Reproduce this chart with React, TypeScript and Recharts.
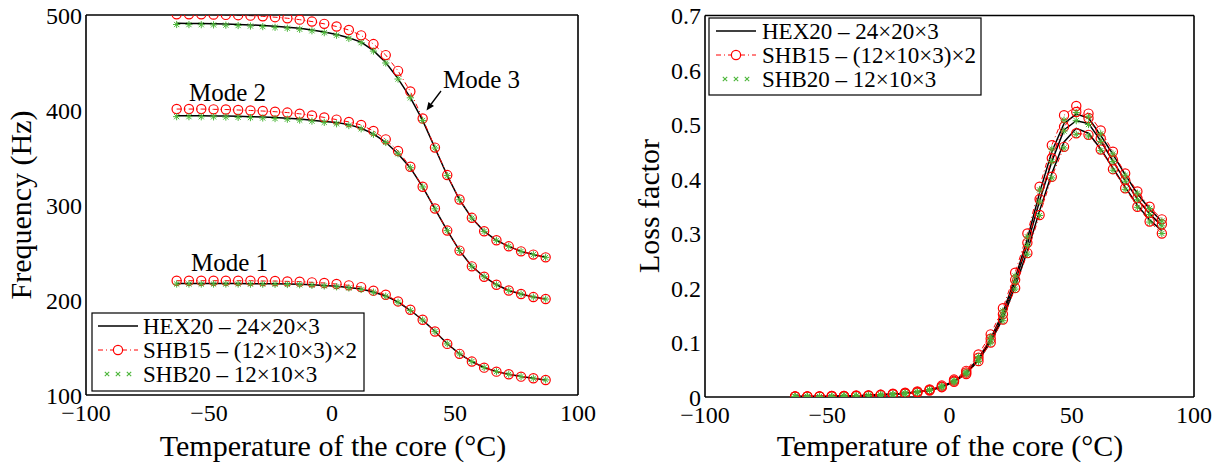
import React from 'react';
import { LineChart, Line, XAxis, YAxis } from 'recharts';

// core temperatures (210 K .. 360 K, step 5 K) in degC
const temps = [
  -63.15, -58.15, -53.15, -48.15, -43.15, -38.15, -33.15, -28.15, -23.15, -18.15, -13.15,
  -8.15, -3.15, 1.85, 6.85, 11.85, 16.85, 21.85, 26.85, 31.85, 36.85, 41.85, 46.85, 51.85,
  56.85, 61.85, 66.85, 71.85, 76.85, 81.85, 86.85,
];

// frequencies (Hz)
const freqHexM1 = [217.3, 217.3, 217.3, 217.3, 217.3, 217.3, 217.2, 217.1, 217.0, 216.8, 216.5, 216.0, 215.3, 214.4, 213.2, 211.6, 208.5, 204.3, 197.8, 189.2, 179.0, 166.8, 153.9, 143.4, 135.2, 128.9, 124.6, 121.8, 119.4, 117.6, 115.9];
const freqS15M1 = [220.3, 220.3, 220.3, 220.3, 220.3, 220.3, 220.3, 220.0, 220.0, 219.6, 219.3, 218.6, 217.9, 216.8, 215.4, 213.6, 209.8, 205.5, 198.5, 189.7, 179.2, 166.8, 153.8, 143.3, 135.2, 128.8, 124.6, 121.8, 119.3, 117.6, 115.8];
const freqS20M1 = [216.8, 216.8, 216.8, 216.8, 216.8, 216.8, 216.7, 216.6, 216.5, 216.3, 216.0, 215.5, 214.8, 213.9, 212.7, 211.1, 208.2, 204.0, 197.6, 189.0, 178.9, 166.7, 153.8, 143.3, 135.2, 128.9, 124.6, 121.8, 119.4, 117.6, 115.9];

const freqHexM2 = [394.0, 394.0, 393.9, 393.8, 393.6, 393.3, 393.0, 392.6, 392.0, 391.3, 390.4, 389.3, 388.0, 386.8, 384.6, 380.8, 374.8, 366.0, 354.0, 339.0, 319.0, 296.0, 273.0, 252.0, 235.4, 224.5, 216.0, 210.0, 206.3, 203.1, 201.0];
const freqS15M2 = [401.0, 401.0, 401.0, 400.7, 400.5, 400.0, 399.5, 398.9, 398.2, 397.3, 396.0, 394.3, 392.2, 389.9, 387.5, 384.3, 378.0, 369.1, 356.8, 340.3, 319.2, 296.3, 273.1, 252.0, 235.4, 224.5, 216.0, 210.0, 206.3, 203.1, 201.0];
const freqS20M2 = [393.0, 393.0, 392.9, 392.8, 392.6, 392.3, 392.0, 391.6, 391.0, 390.3, 389.4, 388.3, 387.0, 385.5, 383.6, 380.2, 374.4, 365.8, 354.0, 339.2, 319.0, 296.0, 273.0, 252.0, 235.4, 224.5, 216.0, 210.0, 206.3, 203.1, 201.0];

const freqHexM3 = [491.2, 491.1, 491.0, 490.8, 490.5, 490.1, 489.6, 489.0, 488.2, 487.2, 486.0, 484.3, 482.2, 479.4, 476.0, 471.5, 462.5, 450.0, 433.0, 413.0, 389.0, 360.0, 331.0, 305.5, 286.2, 272.2, 262.8, 256.4, 251.2, 247.8, 244.9];
const freqS15M3 = [500.8, 500.8, 500.7, 500.4, 500.1, 499.8, 499.3, 498.6, 497.7, 496.6, 495.1, 493.1, 490.7, 487.9, 484.2, 478.6, 469.4, 457.8, 441.2, 419.5, 391.0, 360.4, 331.5, 305.8, 286.5, 272.4, 262.9, 256.5, 251.2, 247.8, 244.9];
const freqS20M3 = [490.0, 489.9, 489.8, 489.6, 489.3, 488.9, 488.4, 487.8, 487.0, 486.1, 485.0, 483.4, 481.4, 478.7, 475.3, 470.9, 462.0, 449.5, 432.6, 412.8, 389.0, 360.0, 331.0, 305.5, 286.2, 272.2, 262.8, 256.4, 251.2, 247.8, 244.9];

// loss factors
const lossHexA = [0.001, 0.001, 0.001, 0.001, 0.002, 0.002, 0.003, 0.004, 0.005, 0.007, 0.009, 0.013, 0.019, 0.029, 0.045, 0.071, 0.107, 0.155, 0.218, 0.29, 0.375, 0.45, 0.502, 0.519, 0.512, 0.48, 0.445, 0.408, 0.373, 0.345, 0.322];
const lossHexB = [0.001, 0.001, 0.001, 0.001, 0.002, 0.002, 0.003, 0.004, 0.005, 0.007, 0.009, 0.013, 0.019, 0.029, 0.044, 0.069, 0.104, 0.15, 0.212, 0.28, 0.36, 0.432, 0.49, 0.507, 0.502, 0.47, 0.433, 0.397, 0.363, 0.336, 0.314];
const lossHexC = [0.001, 0.001, 0.001, 0.001, 0.002, 0.002, 0.003, 0.004, 0.005, 0.007, 0.009, 0.012, 0.018, 0.028, 0.043, 0.067, 0.101, 0.144, 0.203, 0.268, 0.342, 0.41, 0.468, 0.493, 0.484, 0.455, 0.42, 0.385, 0.352, 0.325, 0.305];

const lossS15A = [0.001, 0.001, 0.001, 0.002, 0.002, 0.003, 0.003, 0.004, 0.006, 0.008, 0.01, 0.014, 0.021, 0.032, 0.048, 0.078, 0.115, 0.163, 0.228, 0.3, 0.386, 0.462, 0.517, 0.534, 0.52, 0.489, 0.45, 0.41, 0.377, 0.349, 0.326];
const lossS15B = [0.001, 0.001, 0.001, 0.002, 0.002, 0.002, 0.003, 0.004, 0.005, 0.007, 0.009, 0.013, 0.019, 0.03, 0.045, 0.072, 0.107, 0.152, 0.215, 0.283, 0.363, 0.438, 0.496, 0.523, 0.512, 0.475, 0.435, 0.398, 0.365, 0.338, 0.317];
const lossS15C = [0.001, 0.001, 0.001, 0.001, 0.001, 0.002, 0.002, 0.003, 0.005, 0.006, 0.008, 0.012, 0.018, 0.028, 0.042, 0.066, 0.1, 0.142, 0.2, 0.264, 0.334, 0.404, 0.459, 0.484, 0.481, 0.454, 0.418, 0.383, 0.349, 0.322, 0.3];

const lossS20A = [0.001, 0.001, 0.001, 0.001, 0.002, 0.002, 0.003, 0.004, 0.005, 0.007, 0.009, 0.013, 0.02, 0.03, 0.046, 0.074, 0.11, 0.158, 0.222, 0.294, 0.38, 0.455, 0.508, 0.522, 0.514, 0.483, 0.446, 0.407, 0.374, 0.346, 0.323];
const lossS20B = [0.001, 0.001, 0.001, 0.001, 0.002, 0.002, 0.003, 0.004, 0.005, 0.007, 0.009, 0.013, 0.019, 0.029, 0.044, 0.07, 0.105, 0.15, 0.211, 0.278, 0.358, 0.432, 0.488, 0.507, 0.5, 0.469, 0.432, 0.396, 0.362, 0.335, 0.314];
const lossS20C = [0.001, 0.001, 0.001, 0.001, 0.001, 0.002, 0.002, 0.003, 0.004, 0.006, 0.008, 0.012, 0.018, 0.027, 0.042, 0.065, 0.099, 0.14, 0.198, 0.262, 0.333, 0.402, 0.457, 0.482, 0.479, 0.452, 0.416, 0.381, 0.348, 0.321, 0.3];

const xTicks = [-100, -50, 0, 50, 100];
const freqTicks = [100, 200, 300, 400, 500];
const lossTicks = [0, 0.1, 0.2, 0.3, 0.4, 0.5, 0.6, 0.7];

const legendLabels = ['HEX20 \u2013 24\u00d720\u00d73', 'SHB15 \u2013 (12\u00d710\u00d73)\u00d72', 'SHB20 \u2013 12\u00d710\u00d73'];

const RED = '#ff0000';
const GREEN = '#4cb63a';
const FONT = '"Liberation Serif", "Times New Roman", serif';

function buildRows(series: Record<string, number[]>) {
  return temps.map((t, i) => {
    const row: Record<string, number> = { t };
    Object.keys(series).forEach((k) => {
      row[k] = series[k][i];
    });
    return row;
  });
}

const freqRows = buildRows({
  h1: freqHexM1, a1: freqS15M1, b1: freqS20M1,
  h2: freqHexM2, a2: freqS15M2, b2: freqS20M2,
  h3: freqHexM3, a3: freqS15M3, b3: freqS20M3,
});

const lossRows = buildRows({
  h1: lossHexA, a1: lossS15A, b1: lossS20A,
  h2: lossHexB, a2: lossS15B, b2: lossS20B,
  h3: lossHexC, a3: lossS15C, b3: lossS20C,
});

const minus = (v: number) => String(v).replace('-', '\u2212');

const circleDot = (p: any) => (
  <circle key={`c${p.index}`} cx={p.cx} cy={p.cy} r={4.6} fill="none" stroke={RED} strokeWidth={1.2} />
);

const starDot = (p: any) => {
  const s = 3.6;
  const d = 2.6;
  const { cx, cy } = p;
  return (
    <path
      key={`s${p.index}`}
      d={`M${cx - s},${cy}H${cx + s}M${cx},${cy - s}V${cy + s}M${cx - d},${cy - d}L${cx + d},${cy + d}M${cx - d},${cy + d}L${cx + d},${cy - d}`}
      stroke={GREEN}
      strokeWidth={1}
      fill="none"
    />
  );
};

const tickStyle = { fontSize: 24, fill: '#000', fontFamily: FONT };
const axisLineStyle = { stroke: '#000', strokeWidth: 1.6 };
const tickLineStyle = { stroke: '#000', strokeWidth: 1.2 };

// box with inward ticks on all four sides, MATLAB style
function frameAxes(yDomain: number[], yTicks: number[]) {
  return [
    <XAxis key="xb" xAxisId="b" dataKey="t" type="number" domain={[-100, 100]} ticks={xTicks}
      tickFormatter={minus} tick={tickStyle} tickLine={false} tickSize={0} tickMargin={9}
      axisLine={axisLineStyle} height={40} allowDataOverflow />,
    <XAxis key="xbm" xAxisId="bm" type="number" domain={[-100, 100]} ticks={xTicks} mirror
      tick={false} tickSize={6} tickLine={tickLineStyle} axisLine={false} allowDataOverflow />,
    <XAxis key="xt" xAxisId="t" orientation="top" type="number" domain={[-100, 100]} ticks={xTicks} mirror
      tick={false} tickSize={6} tickLine={tickLineStyle} axisLine={axisLineStyle} allowDataOverflow />,
    <YAxis key="yl" yAxisId="l" type="number" domain={yDomain} ticks={yTicks} tick={tickStyle}
      tickLine={false} tickSize={0} tickMargin={4} axisLine={axisLineStyle} width={60} allowDataOverflow />,
    <YAxis key="ylm" yAxisId="lm" type="number" domain={yDomain} ticks={yTicks} mirror tick={false}
      tickSize={6} tickLine={tickLineStyle} axisLine={false} allowDataOverflow />,
    <YAxis key="yr" yAxisId="r" orientation="right" type="number" domain={yDomain} ticks={yTicks} mirror
      tick={false} tickSize={6} tickLine={tickLineStyle} axisLine={axisLineStyle} allowDataOverflow />,
  ];
}

function seriesLines() {
  const out: React.ReactNode[] = [];
  ['1', '2', '3'].forEach((m) => {
    out.push(
      <Line key={`h${m}`} xAxisId="b" yAxisId="l" dataKey={`h${m}`} type="linear" stroke="#000"
        strokeWidth={1.5} dot={false} isAnimationActive={false} />,
    );
  });
  ['1', '2', '3'].forEach((m) => {
    out.push(
      <Line key={`a${m}`} xAxisId="b" yAxisId="l" dataKey={`a${m}`} type="linear" stroke={RED}
        strokeWidth={1} strokeDasharray="5 3 1 3" dot={circleDot} isAnimationActive={false} />,
    );
  });
  ['1', '2', '3'].forEach((m) => {
    out.push(
      <Line key={`b${m}`} xAxisId="b" yAxisId="l" dataKey={`b${m}`} type="linear" stroke="none"
        dot={starDot} isAnimationActive={false} />,
    );
  });
  return out;
}

function LegendBox({ x, y, w, h, sx, tx, rows }: { x: number; y: number; w: number; h: number; sx: number; tx: number; rows: number[] }) {
  // rows: baselines of the three entries
  return (
    <g>
      <rect x={x} y={y} width={w} height={h} fill="#fff" stroke="#000" strokeWidth={1.2} />
      <line x1={sx} x2={sx + 40} y1={rows[0] - 8} y2={rows[0] - 8} stroke="#000" strokeWidth={1.5} />
      <line x1={sx} x2={sx + 40} y1={rows[1] - 8} y2={rows[1] - 8} stroke={RED} strokeWidth={1} strokeDasharray="5 3 1 3" />
      <circle cx={sx + 20} cy={rows[1] - 8} r={4.6} fill="#fff" stroke={RED} strokeWidth={1.2} />
      {[9, 20, 31].map((dx) => (
        <path key={dx} d={`M${sx + dx - 2.2},${rows[2] - 10.2}l4.4,4.4M${sx + dx - 2.2},${rows[2] - 5.8}l4.4,-4.4`}
          stroke={GREEN} strokeWidth={1.1} />
      ))}
      {legendLabels.map((l, i) => (
        <text key={l} x={tx} y={rows[i]} fontSize={23} fontFamily={FONT} fill="#000">{l}</text>
      ))}
    </g>
  );
}

export default function App() {
  return (
    <div style={{ position: 'absolute', left: 0, top: 0, width: 1227, height: 466, background: '#fff' }}>
      <div style={{ position: 'absolute', left: 0, top: 0 }}>
        <LineChart width={600} height={466} data={freqRows} margin={{ top: 15, right: 22, bottom: 31, left: 26 }}>
          {frameAxes([100, 500], freqTicks)}
          {seriesLines()}
        </LineChart>
      </div>
      <div style={{ position: 'absolute', left: 620, top: 0 }}>
        <LineChart width={600} height={466} data={lossRows} margin={{ top: 15.5, right: 26, bottom: 29, left: 25 }}>
          {frameAxes([0, 0.7], lossTicks)}
          {seriesLines()}
        </LineChart>
      </div>
      <svg width={1227} height={466} style={{ position: 'absolute', left: 0, top: 0, pointerEvents: 'none' }}>
        <g fontFamily={FONT} fill="#000">
          <text x={333} y={456} fontSize={30} textAnchor="middle">Temperature of the core (°C)</text>
          <text x={950} y={456} fontSize={30} textAnchor="middle">Temperature of the core (°C)</text>
          <text transform="translate(31,205) rotate(-90)" fontSize={30} textAnchor="middle">Frequency (Hz)</text>
          <text transform="translate(659,206) rotate(-90)" fontSize={30} textAnchor="middle">Loss factor</text>
          <text x={191} y={271} fontSize={25}>Mode 1</text>
          <text x={189} y={101} fontSize={25}>Mode 2</text>
          <text x={443} y={88} fontSize={25}>Mode 3</text>
        </g>
        <line x1={441} y1={91} x2={431.2} y2={104} stroke="#000" strokeWidth={1.3} />
        <polygon points="426.5,110.5 434.0,106.0 428.4,102.0" fill="#000" />
        <LegendBox x={92} y={313} w={272} h={78} sx={98} tx={143} rows={[334, 358, 382]} />
        <LegendBox x={709} y={18} w={272} h={77} sx={716} tx={762} rows={[39, 63, 87]} />
      </svg>
    </div>
  );
}
